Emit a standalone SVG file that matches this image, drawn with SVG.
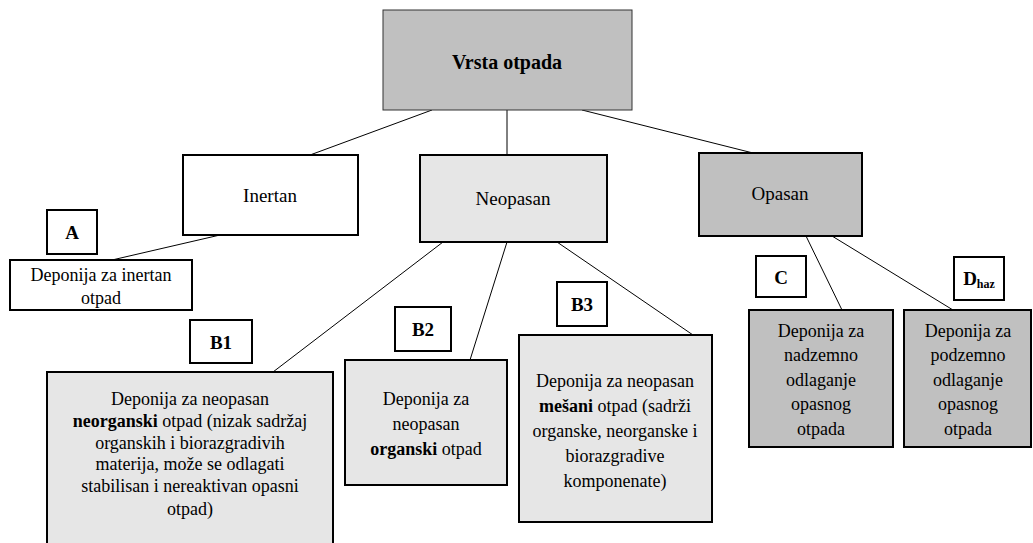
<svg xmlns="http://www.w3.org/2000/svg" width="1033" height="543" viewBox="0 0 1033 543" font-family="'Liberation Serif', 'Times New Roman', serif" font-size="18" text-anchor="middle">
<style>
.b{font-weight:bold}
.box{stroke:#000;stroke-width:2}
.w{fill:#fff}
.l{fill:#e6e6e6}
.d{fill:#c0c0c0}
.lab{fill:#fff;stroke:#000;stroke-width:2}
.lt{font-weight:bold;font-size:19px}
.t{font-size:19px}
#conn line{stroke:#000;stroke-width:1}
</style>
<rect width="1033" height="543" fill="#fff"/>
<g id="conn">
<line x1="432" y1="110" x2="310" y2="155"/>
<line x1="507" y1="110" x2="507" y2="155"/>
<line x1="582" y1="110" x2="753" y2="153"/>
<line x1="220" y1="235" x2="112" y2="260"/>
<line x1="443" y1="242" x2="273" y2="372"/>
<line x1="507" y1="242" x2="470" y2="360"/>
<line x1="557" y1="242" x2="693" y2="335"/>
<line x1="806" y1="236" x2="842" y2="310"/>
<line x1="832" y1="236" x2="953" y2="310"/>
</g>
<g id="vrsta">
<rect x="383" y="10" width="249" height="100" class="d" stroke="#333" stroke-width="1"/>
<text x="507" y="69" class="b" font-size="20">Vrsta otpada</text>
</g>
<g id="inertan">
<rect x="183" y="155" width="175" height="80" class="box w"/>
<text x="270" y="202" class="t">Inertan</text>
</g>
<g id="neopasan">
<rect x="420" y="155" width="187" height="87" class="box l"/>
<text x="513" y="205" class="t">Neopasan</text>
</g>
<g id="opasan">
<rect x="699" y="153" width="163" height="83" class="box d"/>
<text x="780" y="200" class="t">Opasan</text>
</g>
<g id="labelA">
<rect x="47" y="210" width="50" height="44" class="lab"/>
<text x="72" y="239" class="lt">A</text>
</g>
<g id="depInertan">
<rect x="10" y="260" width="182" height="50" class="box w"/>
<text x="101" y="281">Deponija za inertan</text>
<text x="101" y="304">otpad</text>
</g>
<g id="labelB1">
<rect x="190" y="320" width="62" height="43" class="lab"/>
<text x="221" y="349" class="lt">B1</text>
</g>
<g id="depB1">
<rect x="47" y="372" width="286" height="175" class="box l"/>
<text x="190" y="405">Deponija za neopasan</text>
<text x="190" y="427"><tspan class="b">neorganski</tspan> otpad (nizak sadržaj</text>
<text x="190" y="449">organskih i biorazgradivih</text>
<text x="190" y="470">materija, može se odlagati</text>
<text x="190" y="492">stabilisan i nereaktivan opasni</text>
<text x="190" y="515">otpad)</text>
</g>
<g id="labelB2">
<rect x="395" y="307" width="56" height="44" class="lab"/>
<text x="423" y="336" class="lt">B2</text>
</g>
<g id="depB2">
<rect x="345" y="360" width="162" height="125" class="box l"/>
<text x="426" y="405">Deponija za</text>
<text x="426" y="430">neopasan</text>
<text x="426" y="455"><tspan class="b">organski</tspan> otpad</text>
</g>
<g id="labelB3">
<rect x="557" y="282" width="50" height="44" class="lab"/>
<text x="582" y="311" class="lt">B3</text>
</g>
<g id="depB3">
<rect x="519" y="335" width="193" height="187" class="box l"/>
<text x="615" y="387">Deponija za neopasan</text>
<text x="615" y="412"><tspan class="b">mešani</tspan> otpad (sadrži</text>
<text x="615" y="437">organske, neorganske i</text>
<text x="615" y="462">biorazgradive</text>
<text x="615" y="487">komponenate)</text>
</g>
<g id="labelC">
<rect x="756" y="256" width="50" height="41" class="lab"/>
<text x="781" y="284" class="lt">C</text>
</g>
<g id="depC">
<rect x="749" y="310" width="144" height="137" class="box d"/>
<text x="821" y="337">Deponija za</text>
<text x="821" y="361">nadzemno</text>
<text x="821" y="386">odlaganje</text>
<text x="821" y="410">opasnog</text>
<text x="821" y="435">otpada</text>
</g>
<g id="labelD">
<rect x="954" y="257" width="50" height="43" class="lab"/>
<text x="979" y="285" class="lt">D<tspan font-size="12" dy="3">haz</tspan></text>
</g>
<g id="depD">
<rect x="904" y="310" width="127" height="137" class="box d"/>
<text x="968" y="337">Deponija za</text>
<text x="968" y="361">podzemno</text>
<text x="968" y="386">odlaganje</text>
<text x="968" y="410">opasnog</text>
<text x="968" y="435">otpada</text>
</g>
</svg>
